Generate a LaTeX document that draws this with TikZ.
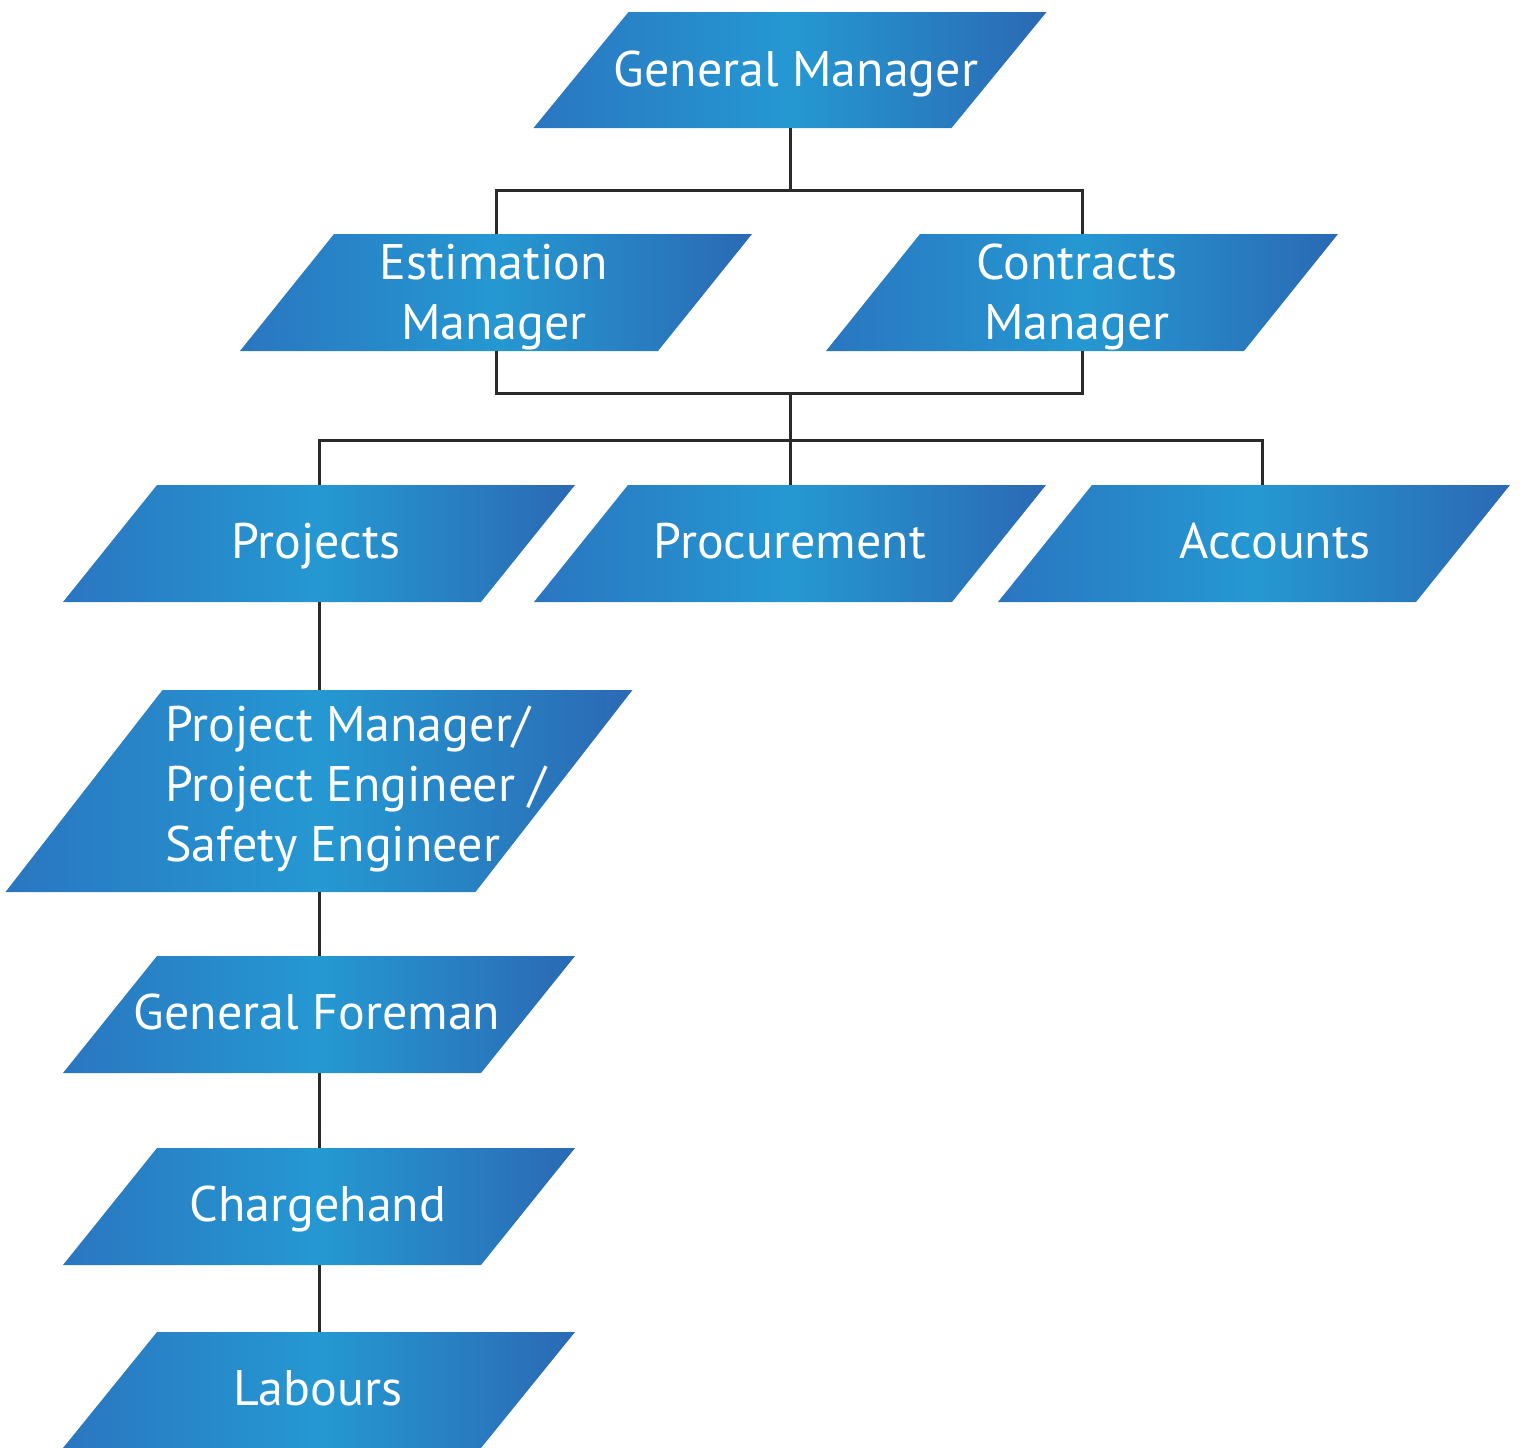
\documentclass[tikz,border=0pt]{standalone}
\usepackage{fontspec}
\setmainfont{PT Sans}
\definecolor{bL}{HTML}{2A76C0}
\definecolor{bM}{HTML}{2598D2}
\definecolor{bR}{HTML}{2B69B4}
\definecolor{lineC}{HTML}{2A2A2A}
\tikzset{
  boxshade/.style={left color=bL, right color=bR, middle color=bM, draw=none},
  anch/.style={draw=none, fill=none, inner sep=0pt, outer sep=0pt, shape=rectangle},
  lbl/.style={text=white, font=\fontsize{50}{60}\selectfont, inner sep=0pt},
  link/.style={draw=lineC, line width=3pt},
}
\newcommand\parabox[6]{% name, cx, top, w, h, s
  \shade[boxshade] ({#2-(#4)/2-(#6)/2},{#3+#5}) -- ({#2+(#4)/2-(#6)/2},{#3+#5})
    -- ({#2+(#4)/2+(#6)/2},{#3}) -- ({#2-(#4)/2+(#6)/2},{#3}) -- cycle;
  \node[anch, minimum width=#4pt, minimum height=#5pt] (#1) at ({#2},{#3+(#5)/2}) {};
}
\begin{document}
\begin{tikzpicture}[x=1pt,y=-1pt]
\useasboundingbox (0,0) rectangle (1523,1448);
% boxes
\parabox{gm}{790}{12}{418}{116}{95}
\parabox{em}{496}{234}{418}{117}{94}
\parabox{cm}{1082}{234}{418}{117}{94}
\parabox{proj}{319}{485}{418}{117}{94}
\parabox{proc}{790}{485}{418}{117}{94}
\parabox{acc}{1254}{485}{418}{117}{94}
\parabox{pm}{319}{690}{470}{202}{157}
\parabox{gf}{319}{956}{418}{117}{94}
\parabox{ch}{319}{1148}{418}{117}{94}
\parabox{lb}{319}{1332}{418}{116}{94}
% labels
\node[lbl, anchor=base] (gm-t) at (796,86) {General Manager};
\node[lbl, align=center] (em-t) at (494,297) {Estimation\\Manager};
\node[lbl, align=center] (cm-t) at (1077,297) {Contracts\\Manager};
\node[lbl, anchor=base] (proj-t) at (316,558) {Projects};
\node[lbl, anchor=base] (proc-t) at (790,558) {Procurement};
\node[lbl, anchor=base] (acc-t) at (1275,558) {Accounts};
\node[lbl, align=left, anchor=west] (pm-t) at (165,789) {Project Manager/\\Project Engineer /\\Safety Engineer};
\node[lbl, anchor=base] (gf-t) at (317,1029) {General Foreman};
\node[lbl, anchor=base] (ch-t) at (318,1221) {Chargehand};
\node[lbl, anchor=base] (lb-t) at (318,1405) {Labours};
% connectors
\coordinate (bus1) at (790,190);
\coordinate (bus2) at (790,393);
\coordinate (bus3) at (790,440);
\coordinate (acctop) at (1262,485);
\draw[link] (gm.south) -- (bus1);
\draw[link] (em.north) |- (bus1) -| (cm.north);
\draw[link] (em.south) |- (bus2) -| (cm.south);
\draw[link] (bus2) -- (proc.north);
\draw[link] (proj.north) |- (bus3) -| (acctop);
\draw[link] (proj.south) -- (pm.north);
\draw[link] (pm.south) -- (gf.north);
\draw[link] (gf.south) -- (ch.north);
\draw[link] (ch.south) -- (lb.north);
\end{tikzpicture}
\end{document}
